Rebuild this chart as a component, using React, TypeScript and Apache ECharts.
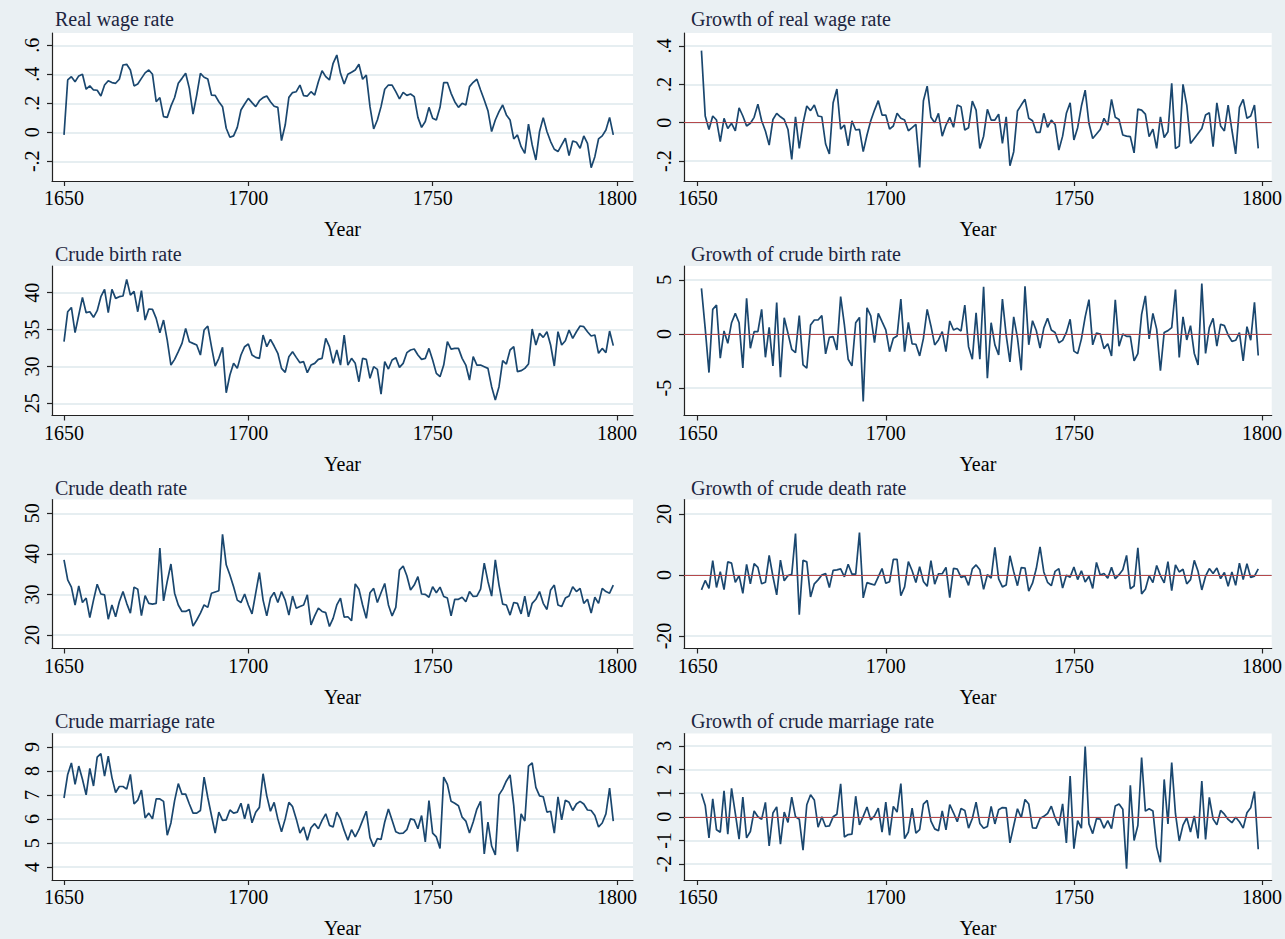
import React, { useEffect, useRef } from "react";
import * as echarts from "echarts";

const FIRST_LEVEL_YEAR = 1650;
const FIRST_GROWTH_YEAR = 1651;

const realWage = [
  -0.018, 0.361, 0.384, 0.349, 0.389, 0.4, 0.297, 0.32, 0.292, 0.29,
  0.25, 0.326, 0.356, 0.343, 0.338, 0.366, 0.464, 0.469, 0.43, 0.32,
  0.333, 0.372, 0.41, 0.43, 0.4, 0.211, 0.239, 0.108, 0.103, 0.18,
  0.24, 0.338, 0.372, 0.407, 0.303, 0.126, 0.257, 0.407, 0.38, 0.368,
  0.257, 0.255, 0.211, 0.177, 0.028, -0.034, -0.025, 0.034, 0.154, 0.195,
  0.234, 0.205, 0.177, 0.218, 0.239, 0.25, 0.211, 0.18, 0.172, -0.057,
  0.05, 0.241, 0.274, 0.28, 0.326, 0.253, 0.25, 0.28, 0.257, 0.349,
  0.425, 0.384, 0.361, 0.476, 0.533, 0.407, 0.333, 0.4, 0.414, 0.43,
  0.469, 0.366, 0.395, 0.177, 0.023, 0.085, 0.177, 0.297, 0.326, 0.326,
  0.28, 0.23, 0.276, 0.255, 0.264, 0.246, 0.103, 0.034, 0.074, 0.172,
  0.097, 0.085, 0.172, 0.343, 0.343, 0.269, 0.211, 0.172, 0.2, 0.188,
  0.315, 0.345, 0.366, 0.292, 0.223, 0.149, 0.005, 0.085, 0.143, 0.188,
  0.12, 0.085, -0.046, -0.018, -0.099, -0.145, 0.057, -0.087, -0.191, 0.005,
  0.101, 0.005, -0.064, -0.117, -0.133, -0.087, -0.041, -0.161, -0.06, -0.069,
  -0.11, -0.025, -0.076, -0.244, -0.168, -0.046, -0.025, 0.016, 0.103, -0.018,
];

const wageGrowth = [
  0.376, 0.035, -0.035, 0.035, 0.014, -0.099, 0.023, -0.03, -0.003, -0.043,
  0.078, 0.035, -0.017, -0.003, 0.028, 0.097, 0.01, -0.043, -0.117, 0.017,
  0.049, 0.031, 0.017, -0.035, -0.191, 0.031, -0.134, -0.003, 0.087, 0.063,
  0.092, 0.035, 0.031, -0.111, -0.163, 0.104, 0.176, -0.033, -0.012, -0.12,
  0.01, -0.038, -0.035, -0.151, -0.064, 0.01, 0.066, 0.115, 0.04, 0.04,
  -0.033, -0.017, 0.049, 0.023, 0.014, -0.042, -0.026, -0.009, -0.233, 0.115,
  0.191, 0.028, 0.0, 0.049, -0.07, -0.012, 0.028, -0.024, 0.092, 0.083,
  -0.038, -0.026, 0.113, 0.066, -0.134, -0.07, 0.07, 0.014, 0.014, 0.045,
  -0.108, 0.031, -0.224, -0.151, 0.061, 0.092, 0.122, 0.023, 0.01, -0.05,
  -0.05, 0.049, -0.024, 0.014, -0.009, -0.143, -0.07, 0.049, 0.104, -0.09,
  -0.026, 0.087, 0.17, -0.003, -0.082, -0.059, -0.035, 0.023, -0.012, 0.122,
  0.028, 0.017, -0.064, -0.07, -0.073, -0.157, 0.071, 0.066, 0.045, -0.073,
  -0.033, -0.134, 0.031, -0.077, -0.047, 0.205, -0.134, -0.122, 0.2, 0.092,
  -0.108, -0.082, -0.056, -0.03, 0.04, 0.052, -0.125, 0.104, -0.017, -0.043,
  0.092, -0.038, -0.163, 0.08, 0.122, 0.023, 0.035, 0.092, -0.134,
];

const birthRate = [
  33.36, 37.42, 38.0, 34.58, 36.97, 39.37, 37.29, 37.42, 36.66, 37.56,
  39.46, 40.45, 37.29, 40.45, 39.23, 39.46, 39.55, 41.81, 39.68, 40.18,
  37.42, 40.27, 36.29, 37.79, 37.74, 36.52, 34.58, 36.29, 33.58, 30.19,
  30.96, 32.0, 33.13, 35.16, 33.36, 33.13, 32.91, 31.55, 34.94, 35.48,
  32.68, 30.06, 31.1, 32.59, 26.44, 28.84, 30.42, 29.74, 31.55, 32.68,
  33.04, 31.55, 31.23, 31.1, 34.26, 32.68, 33.67, 32.77, 31.78, 29.74,
  29.2, 31.32, 32.0, 31.23, 30.51, 30.65, 29.15, 30.19, 30.42, 30.96,
  31.1, 33.81, 32.68, 30.42, 32.23, 30.19, 34.26, 30.19, 31.1, 30.42,
  27.93, 31.1, 30.96, 28.39, 29.97, 29.61, 26.26, 30.65, 29.65, 30.87,
  31.19, 29.88, 30.42, 31.87, 32.23, 32.36, 31.55, 30.96, 31.1, 32.45,
  30.87, 29.06, 28.61, 30.19, 33.36, 32.36, 32.45, 32.45, 31.1, 30.19,
  28.16, 31.32, 30.19, 30.19, 29.97, 29.74, 27.26, 25.45, 27.26, 30.78,
  30.33, 32.23, 32.68, 29.29, 29.43, 29.74, 30.33, 35.07, 32.91, 34.49,
  33.94, 34.71, 32.91, 30.06, 34.71, 32.91, 33.49, 34.94, 33.81, 34.71,
  35.48, 35.39, 34.71, 34.13, 34.26, 31.78, 32.45, 31.87, 34.8, 32.82,
];

const birthGrowth = [
  4.2, 0.5, -3.56, 2.27, 2.67, -2.24, 0.28, -0.86, 1.04, 1.9,
  1.04, -3.13, 3.28, -1.32, 0.21, 0.21, 2.27, -2.15, 0.61, -2.94,
  2.91, -3.99, 1.5, 0.06, -1.41, -1.72, 1.69, -2.85, -3.16, 0.83,
  1.29, 1.29, 1.69, -1.84, -0.31, -0.25, -1.47, 3.44, 0.83, -2.33,
  -2.94, 1.04, 1.53, -6.23, 2.42, 1.66, -0.8, 1.9, 1.13, 0.37,
  -1.63, -0.4, -0.18, 3.22, -1.63, 1.07, -0.92, -0.95, -2.02, -0.4,
  2.27, 0.74, -1.01, -0.55, 0.21, -1.63, 1.2, 0.37, 0.52, 0.28,
  2.67, -1.17, -2.33, 1.96, -2.33, 4.36, -4.08, 1.04, -1.01, -1.93,
  3.22, -0.1, -2.57, 1.58, -0.36, -3.35, 4.39, -1.0, 1.22, 0.32,
  -1.31, 0.54, 1.45, 0.36, 0.13, -0.81, -0.59, 0.14, 1.35, -1.58,
  -1.81, -0.45, 1.58, 3.17, -1.0, 0.09, 0.0, -1.35, -0.91, -2.03,
  3.16, -1.13, 0.0, -0.22, -0.23, -2.48, -1.81, 1.81, 3.52, -0.45,
  1.9, 0.45, -3.39, 0.14, 0.31, 0.59, 4.1, -2.16, 1.58, -0.55,
  0.77, -1.8, -2.85, 4.65, -1.8, 0.58, 1.45, -1.13, 0.9, 0.77,
  -0.09, -0.68, -0.58, 0.13, -2.48, 0.67, -0.58, 2.93, -1.98,
];

const deathRate = [
  38.5, 33.6, 31.8, 27.4, 32.1, 28.0, 29.1, 24.3, 28.6, 32.5,
  30.1, 29.9, 23.9, 27.4, 24.5, 28.2, 30.7, 27.8, 25.4, 31.8,
  31.3, 24.8, 29.7, 27.8, 27.6, 27.8, 41.4, 28.4, 33.2, 37.5,
  30.3, 27.4, 25.8, 25.8, 26.3, 22.2, 23.7, 25.4, 27.4, 26.8,
  30.3, 30.6, 30.9, 44.8, 37.3, 34.8, 31.9, 28.6, 28.0, 30.1,
  27.4, 25.2, 30.3, 35.4, 28.6, 24.7, 29.1, 30.5, 28.0, 30.7,
  28.6, 24.9, 29.6, 26.6, 27.0, 27.4, 29.9, 22.5, 24.7, 26.6,
  25.8, 25.5, 22.1, 24.1, 27.4, 29.1, 24.4, 24.5, 23.5, 32.6,
  31.3, 27.4, 24.1, 30.4, 31.5, 28.0, 30.4, 32.7, 27.4, 24.7,
  26.8, 36.0, 37.0, 34.6, 31.1, 32.3, 34.4, 30.1, 30.0, 29.3,
  31.9, 30.4, 31.8, 29.5, 29.1, 24.7, 28.8, 28.8, 29.3, 28.2,
  30.7, 29.5, 29.6, 31.3, 37.7, 33.2, 29.6, 38.5, 32.3, 27.6,
  27.4, 24.9, 28.0, 27.8, 25.2, 29.6, 24.5, 27.8, 28.8, 30.7,
  27.8, 26.3, 31.1, 32.3, 27.4, 27.0, 29.1, 29.6, 31.9, 30.7,
  31.5, 27.8, 28.8, 25.4, 29.3, 27.8, 31.5, 30.7, 30.3, 32.3,
];

const deathGrowth = [
  -4.9, -1.8, -4.4, 4.7, -4.1, 1.1, -4.8, 4.3, 3.9, -2.4,
  -0.2, -6.0, 3.5, -2.9, 3.7, 2.5, -2.9, -2.4, 6.4, -0.5,
  -6.5, 4.9, -1.9, -0.2, 0.2, 13.6, -13.0, 4.8, 4.3, -7.2,
  -2.9, -1.6, 0.0, 0.5, -4.1, 1.5, 1.7, 2.0, -0.6, 3.5,
  0.3, 0.3, 13.9, -7.5, -2.5, -2.9, -3.3, -0.6, 2.1, -2.7,
  -2.2, 5.1, 5.1, -6.8, -3.9, 4.4, 1.4, -2.5, 2.7, -2.1,
  -3.7, 4.7, -3.0, 0.4, 0.4, 2.5, -7.4, 2.2, 1.9, -0.8,
  -0.3, -3.4, 2.0, 3.3, 1.7, -4.7, 0.1, -1.0, 9.1, -1.3,
  -3.9, -3.3, 6.3, 1.1, -3.5, 2.4, 2.3, -5.3, -2.7, 2.1,
  9.2, 1.0, -2.4, -3.5, 1.2, 2.1, -4.3, -0.1, -0.7, 2.6,
  -1.5, 1.4, -2.3, -0.4, -4.4, 4.1, 0.0, 0.5, -1.1, 2.5,
  -1.2, 0.1, 1.7, 6.4, -4.5, -3.6, 8.9, -6.2, -4.7, -0.2,
  -2.5, 3.1, -0.2, -2.6, 4.4, -5.1, 3.3, 1.0, 1.9, -2.9,
  -1.5, 4.8, 1.2, -4.9, -0.4, 2.1, 0.5, 2.3, -1.2, 0.8,
  -3.7, 1.0, -3.4, 3.9, -1.5, 3.7, -0.8, -0.4, 2.0,
];

const marriageRate = [
  6.88, 7.86, 8.34, 7.45, 8.21, 7.66, 7.01, 8.11, 7.38, 8.58,
  8.73, 7.79, 8.62, 7.73, 7.11, 7.36, 7.36, 7.25, 7.86, 6.63,
  6.79, 7.21, 6.05, 6.25, 6.01, 6.84, 6.84, 6.74, 5.33, 5.84,
  6.77, 7.48, 7.04, 7.04, 6.63, 6.25, 6.25, 6.36, 7.75, 6.9,
  6.15, 5.42, 6.29, 5.95, 5.97, 6.38, 6.25, 6.29, 6.66, 6.01,
  6.63, 5.85, 6.29, 6.49, 7.89, 6.97, 6.33, 6.7, 6.01, 5.47,
  6.01, 6.7, 6.52, 6.01, 5.42, 5.67, 5.12, 5.64, 5.81, 5.6,
  5.95, 6.22, 5.74, 5.67, 6.29, 6.01, 5.53, 5.12, 5.56, 5.26,
  5.56, 5.95, 6.33, 5.23, 4.85, 5.19, 5.15, 5.88, 6.42, 5.95,
  5.47, 5.4, 5.42, 5.56, 6.01, 5.97, 5.6, 6.15, 5.05, 6.77,
  5.42, 5.26, 4.78, 7.75, 7.45, 6.74, 6.66, 6.56, 6.08, 5.92,
  5.42, 5.88, 6.42, 6.74, 4.55, 5.88, 4.88, 4.51, 7.01, 7.25,
  7.59, 7.84, 6.56, 4.64, 6.22, 5.92, 8.21, 8.34, 7.32, 6.97,
  6.93, 6.29, 6.33, 5.42, 6.93, 5.97, 6.79, 6.7, 6.36, 6.63,
  6.74, 6.63, 6.38, 6.36, 6.15, 5.67, 5.84, 6.22, 7.29, 5.92,
];

const marriageGrowth = [
  0.98, 0.48, -0.89, 0.76, -0.55, -0.65, 1.1, -0.73, 1.2, 0.15,
  -0.94, 0.83, -0.89, -0.62, 0.25, 0.0, -0.11, 0.61, -1.23, 0.16,
  0.42, -1.16, 0.2, -0.24, 0.83, 0.0, -0.1, -1.41, 0.51, 0.93,
  0.71, -0.44, 0.0, -0.41, -0.38, 0.0, 0.11, 1.39, -0.85, -0.75,
  -0.73, 0.87, -0.34, 0.02, 0.41, -0.13, 0.04, 0.37, -0.65, 0.62,
  -0.78, 0.44, 0.2, 1.4, -0.92, -0.64, 0.37, -0.69, -0.54, 0.54,
  0.69, -0.18, -0.51, -0.59, 0.25, -0.55, 0.52, 0.17, -0.21, 0.35,
  0.27, -0.48, -0.07, 0.62, -0.28, -0.48, -0.41, 0.44, -0.3, 0.3,
  0.39, 0.38, -1.1, -0.38, 0.34, -0.04, 0.73, 0.54, -0.47, -0.48,
  -0.07, 0.02, 0.14, 0.45, -0.04, -0.37, 0.55, -1.1, 1.72, -1.35,
  -0.16, -0.48, 2.97, -0.3, -0.71, -0.08, -0.1, -0.48, -0.16, -0.5,
  0.46, 0.54, 0.32, -2.19, 1.33, -1.0, -0.37, 2.5, 0.24, 0.34,
  0.25, -1.28, -1.92, 1.58, -0.3, 2.29, 0.13, -1.02, -0.35, -0.04,
  -0.64, 0.04, -0.91, 1.51, -0.96, 0.82, -0.09, -0.34, 0.27, 0.11,
  -0.11, -0.25, -0.02, -0.21, -0.48, 0.17, 0.38, 1.07, -1.37,
];

const xTicks = [1650, 1700, 1750, 1800];
const wageTicks = [-0.2, 0, 0.2, 0.4, 0.6];
const wageGrowthTicks = [-0.2, 0, 0.2, 0.4];
const birthTicks = [25, 30, 35, 40];
const birthGrowthTicks = [-5, 0, 5];
const deathTicks = [20, 30, 40, 50];
const deathGrowthTicks = [-20, 0, 20];
const marriageTicks = [4, 5, 6, 7, 8, 9];
const marriageGrowthTicks = [-2, -1, 0, 1, 2, 3];

const FONT = '"Liberation Serif", "Times New Roman", Times, serif';
const LINE = "#1a476f";
const BG = "#eaf0f3";
const GRIDLINE = "#e6eef1";
const ZERO = "#b5484b";

function stataFmt(v: number): string {
  const r = Math.round(v * 1000) / 1000;
  if (r === 0) return "0";
  if (Math.abs(r) < 1) {
    const s = String(Math.abs(r)).replace(/^0/, "");
    return (r < 0 ? "-" : "") + s;
  }
  return String(r);
}

const COLS = [
  { left: 52, right: 633, xMin: 1646.74, xMax: 1804.35, titleX: 55 },
  { left: 684, right: 1272, xMin: 1646.36, xMax: 1802.58, titleX: 691 },
];
const ROWS = [
  { top: 33, bottom: 181, titleY: 20 },
  { top: 266, bottom: 415.5, titleY: 255 },
  { top: 499.5, bottom: 648.5, titleY: 489 },
  { top: 733.5, bottom: 882, titleY: 722 },
];

const panels = [
  { title: "Real wage rate", col: 0, row: 0, values: realWage, start: FIRST_LEVEL_YEAR, yMin: -0.336, yMax: 0.685, ticks: wageTicks, zero: false },
  { title: "Growth of real wage rate", col: 1, row: 0, values: wageGrowth, start: FIRST_GROWTH_YEAR, yMin: -0.304, yMax: 0.468, ticks: wageGrowthTicks, zero: true },
  { title: "Crude birth rate", col: 0, row: 1, values: birthRate, start: FIRST_LEVEL_YEAR, yMin: 23.35, yMax: 43.62, ticks: birthTicks, zero: false },
  { title: "Growth of crude birth rate", col: 1, row: 1, values: birthGrowth, start: FIRST_GROWTH_YEAR, yMin: -7.52, yMax: 6.27, ticks: birthGrowthTicks, zero: true },
  { title: "Crude death rate", col: 0, row: 2, values: deathRate, start: FIRST_LEVEL_YEAR, yMin: 16.67, yMax: 53.4, ticks: deathTicks, zero: false },
  { title: "Growth of crude death rate", col: 1, row: 2, values: deathGrowth, start: FIRST_GROWTH_YEAR, yMin: -24.1, yMax: 24.75, ticks: deathGrowthTicks, zero: true },
  { title: "Crude marriage rate", col: 0, row: 3, values: marriageRate, start: FIRST_LEVEL_YEAR, yMin: 3.464, yMax: 9.567, ticks: marriageTicks, zero: false },
  { title: "Growth of crude marriage rate", col: 1, row: 3, values: marriageGrowth, start: FIRST_GROWTH_YEAR, yMin: -2.67, yMax: 3.52, ticks: marriageGrowthTicks, zero: true },
];

function buildOption() {
  const grids: any[] = [];
  const xAxes: any[] = [];
  const yAxes: any[] = [];
  const series: any[] = [];
  const titles: any[] = [];
  const axisLine = { show: true, onZero: false, lineStyle: { color: "#222", width: 1.2 } };
  const tickStyle = { color: "#222", width: 1.2 };

  panels.forEach((p, i) => {
    const c = COLS[p.col];
    const r = ROWS[p.row];
    grids.push({
      left: c.left,
      top: r.top,
      width: c.right - c.left,
      height: r.bottom - r.top,
      show: true,
      backgroundColor: "#ffffff",
      borderWidth: 0,
    });
    xAxes.push({
      gridIndex: i,
      type: "value",
      min: c.xMin,
      max: c.xMax,
      axisLine,
      axisTick: { show: true, length: 5, customValues: xTicks, lineStyle: tickStyle },
      axisLabel: {
        customValues: xTicks,
        margin: 7,
        color: "#000",
        fontFamily: FONT,
        fontSize: 20,
        formatter: (v: number) => String(v),
      },
      splitLine: { show: false },
      name: "Year",
      nameLocation: "middle",
      nameGap: 38,
      nameTextStyle: { color: "#000", fontFamily: FONT, fontSize: 20 },
    });
    yAxes.push({
      gridIndex: i,
      type: "value",
      min: p.yMin,
      max: p.yMax,
      axisLine,
      axisTick: { show: true, length: 5, customValues: p.ticks, lineStyle: tickStyle },
      axisLabel: {
        customValues: p.ticks,
        rotate: 90,
        margin: 10,
        color: "#000",
        fontFamily: FONT,
        fontSize: 20,
        formatter: (v: number) => stataFmt(v),
      },
      splitLine: { show: true, lineStyle: { color: GRIDLINE, width: 2 } },
    });
    if (p.zero) {
      series.push({
        type: "line",
        xAxisIndex: i,
        yAxisIndex: i,
        data: [],
        z: 2,
        silent: true,
        markLine: {
          silent: true,
          symbol: ["none", "none"],
          label: { show: false },
          lineStyle: { color: ZERO, width: 1.2, type: "solid" },
          data: [{ yAxis: 0 }],
        },
      });
    }
    series.push({
      type: "line",
      xAxisIndex: i,
      yAxisIndex: i,
      data: p.values.map((v, k) => [p.start + k, v]),
      showSymbol: false,
      symbol: "none",
      silent: true,
      z: 3,
      lineStyle: { color: LINE, width: 1.7 },
    });
    titles.push({
      text: p.title,
      left: c.titleX,
      top: r.titleY - 11,
      padding: 0,
      textStyle: { color: "#1c2541", fontFamily: FONT, fontSize: 20, fontWeight: "normal" },
    });
  });

  return {
    animation: false,
    backgroundColor: BG,
    title: titles,
    grid: grids,
    xAxis: xAxes,
    yAxis: yAxes,
    series,
  };
}

export default function App() {
  const ref = useRef<HTMLDivElement>(null);
  useEffect(() => {
    const chart = echarts.init(ref.current!, undefined, { renderer: "svg" });
    chart.setOption(buildOption() as any);
    return () => chart.dispose();
  }, []);
  return (
    <div
      ref={ref}
      style={{ position: "absolute", left: 0, top: 0, width: 1285, height: 939 }}
    />
  );
}
